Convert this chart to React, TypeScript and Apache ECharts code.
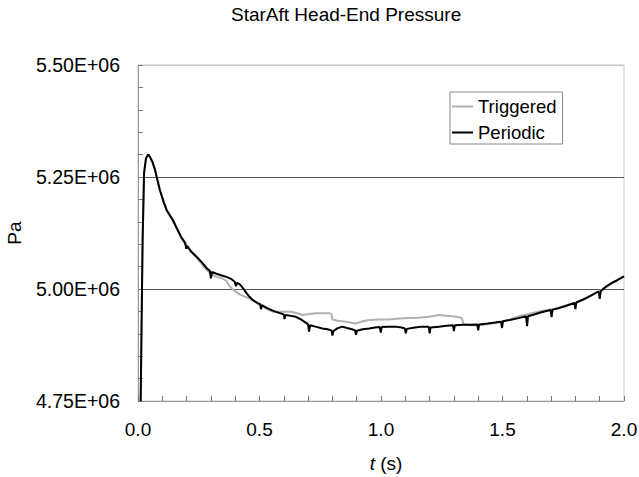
import React, { useEffect, useRef } from "react";
import * as echarts from "echarts";

const chartTitle = "StarAft Head-End Pressure";
const seriesNames = ["Triggered", "Periodic"];
const xTicks = [0, 0.5, 1.0, 1.5, 2.0];
const yTicks = [4.75e6, 5.0e6, 5.25e6, 5.5e6];

// Periodic (black): [t (s), P (Pa)]
const periodic: number[][] = [
  [0.011, 4.75e6], [0.016, 4.98e6], [0.019, 5.109e6], [0.025, 5.259e6], [0.033, 5.292e6],
  [0.042, 5.3e6], [0.049, 5.295e6], [0.06, 5.283e6], [0.07, 5.266e6], [0.08, 5.243e6],
  [0.09, 5.221e6], [0.105, 5.195e6], [0.118, 5.176e6], [0.13, 5.165e6], [0.143, 5.154e6],
  [0.16, 5.135e6], [0.179, 5.114e6], [0.192, 5.104e6], [0.196, 5.098e6], [0.199, 5.09e6],
  [0.203, 5.096e6], [0.22, 5.083e6], [0.241, 5.072e6], [0.262, 5.06e6], [0.282, 5.047e6],
  [0.296, 5.04e6], [0.3, 5.024e6], [0.304, 5.038e6], [0.323, 5.034e6], [0.345, 5.03e6],
  [0.364, 5.027e6], [0.385, 5.022e6], [0.398, 5.016e6], [0.403, 5.006e6], [0.407, 5.014e6],
  [0.42, 5.01e6], [0.432, 5.002e6], [0.445, 4.992e6], [0.46, 4.982e6], [0.473, 4.975e6],
  [0.495, 4.968e6], [0.503, 4.966e6], [0.506, 4.955e6], [0.51, 4.964e6], [0.53, 4.958e6],
  [0.55, 4.953e6], [0.568, 4.949e6], [0.59, 4.945e6], [0.6, 4.943e6], [0.603, 4.933e6],
  [0.607, 4.942e6], [0.63, 4.94e6], [0.65, 4.938e6], [0.67, 4.932e6], [0.69, 4.925e6],
  [0.7, 4.921e6], [0.704, 4.905e6], [0.708, 4.919e6], [0.73, 4.916e6], [0.759, 4.912e6],
  [0.78, 4.91e6], [0.797, 4.907e6], [0.8, 4.896e6], [0.804, 4.906e6], [0.82, 4.912e6],
  [0.841, 4.916e6], [0.86, 4.913e6], [0.88, 4.91e6], [0.893, 4.908e6], [0.897, 4.898e6],
  [0.901, 4.907e6], [0.925, 4.91e6], [0.951, 4.912e6], [0.975, 4.914e6], [0.995, 4.915e6],
  [0.999, 4.903e6], [1.003, 4.915e6], [1.03, 4.916e6], [1.06, 4.916e6], [1.085, 4.914e6],
  [1.098, 4.912e6], [1.102, 4.901e6], [1.106, 4.911e6], [1.14, 4.914e6], [1.169, 4.916e6],
  [1.19, 4.916e6], [1.197, 4.915e6], [1.2, 4.901e6], [1.204, 4.914e6], [1.238, 4.916e6],
  [1.27, 4.918e6], [1.296, 4.919e6], [1.3, 4.906e6], [1.304, 4.919e6], [1.34, 4.92e6],
  [1.37, 4.92e6], [1.396, 4.921e6], [1.4, 4.908e6], [1.404, 4.921e6], [1.44, 4.923e6],
  [1.47, 4.925e6], [1.494, 4.927e6], [1.498, 4.913e6], [1.502, 4.928e6], [1.53, 4.931e6],
  [1.566, 4.935e6], [1.597, 4.939e6], [1.601, 4.917e6], [1.605, 4.939e6], [1.63, 4.943e6],
  [1.66, 4.948e6], [1.698, 4.953e6], [1.702, 4.937e6], [1.706, 4.954e6], [1.73, 4.957e6],
  [1.76, 4.962e6], [1.796, 4.969e6], [1.8, 4.955e6], [1.804, 4.97e6], [1.83, 4.976e6],
  [1.86, 4.984e6], [1.893, 4.994e6], [1.897, 4.991e6], [1.9, 4.978e6], [1.904, 4.995e6],
  [1.925, 5.005e6], [1.948, 5.013e6], [1.97, 5.019e6], [2.0, 5.028e6],
];

// Triggered (grey): [t (s), P (Pa)]
const triggered: number[][] = [
  [0.011, 4.75e6], [0.016, 4.98e6], [0.019, 5.109e6], [0.025, 5.259e6], [0.033, 5.292e6],
  [0.042, 5.3e6], [0.049, 5.295e6], [0.06, 5.283e6], [0.07, 5.266e6], [0.08, 5.243e6],
  [0.09, 5.221e6], [0.105, 5.196e6], [0.118, 5.177e6], [0.13, 5.166e6], [0.143, 5.155e6],
  [0.16, 5.136e6], [0.179, 5.116e6], [0.195, 5.103e6], [0.205, 5.092e6], [0.22, 5.082e6],
  [0.241, 5.07e6], [0.262, 5.056e6], [0.282, 5.043e6], [0.3, 5.033e6], [0.323, 5.027e6],
  [0.345, 5.024e6], [0.364, 5.018e6], [0.377, 5.006e6], [0.395, 4.997e6], [0.418, 4.988e6],
  [0.44, 4.983e6], [0.459, 4.979e6], [0.48, 4.972e6], [0.5, 4.964e6], [0.53, 4.955e6],
  [0.555, 4.949e6], [0.59, 4.949e6], [0.63, 4.949e6], [0.655, 4.946e6], [0.677, 4.942e6],
  [0.705, 4.944e6], [0.732, 4.946e6], [0.76, 4.946e6], [0.787, 4.946e6], [0.796, 4.944e6],
  [0.8, 4.932e6], [0.82, 4.929e6], [0.855, 4.927e6], [0.896, 4.923e6], [0.925, 4.928e6],
  [0.951, 4.931e6], [0.99, 4.932e6], [1.033, 4.932e6], [1.075, 4.934e6], [1.115, 4.935e6],
  [1.155, 4.936e6], [1.197, 4.938e6], [1.238, 4.942e6], [1.279, 4.94e6], [1.31, 4.938e6],
  [1.333, 4.935e6], [1.34, 4.921e6], [1.37, 4.919e6], [1.402, 4.919e6], [1.44, 4.922e6],
  [1.484, 4.926e6], [1.53, 4.932e6], [1.57, 4.94e6], [1.607, 4.944e6], [1.66, 4.951e6],
  [1.716, 4.956e6], [1.76, 4.963e6], [1.811, 4.971e6], [1.85, 4.981e6], [1.893, 4.993e6],
  [1.95, 5.012e6], [2.0, 5.028e6],
];

const FONT = "Arial, 'Liberation Sans', sans-serif";

export default function App() {
  const ref = useRef<HTMLDivElement>(null);
  useEffect(() => {
    if (!ref.current) return;
    const chart = echarts.init(ref.current, null, { renderer: "svg" });
    const xMin = xTicks[0];
    const xMax = xTicks[xTicks.length - 1];
    const yMin = yTicks[0];
    const yMax = yTicks[yTicks.length - 1];
    chart.setOption({
      animation: false,
      backgroundColor: "#ffffff",
      title: {
        text: chartTitle,
        left: 231,
        top: 5,
        padding: 0,
        textStyle: { fontFamily: FONT, fontSize: 19, fontWeight: "normal", color: "#000" },
      },
      legend: {
        left: 450,
        top: 92,
        orient: "vertical",
        padding: [5, 6, 2, 2],
        itemGap: 7,
        itemWidth: 21,
        itemHeight: 2,
        icon: "rect",
        borderColor: "#888",
        borderWidth: 1,
        textStyle: { fontFamily: FONT, fontSize: 18.5, color: "#000" },
        data: seriesNames,
      },
      grid: {
        left: 138,
        right: 15,
        top: 65,
        bottom: 76,
        outerBoundsMode: "none",
        containLabel: false,
        show: true,
        borderColor: "#c8c8c8",
        borderWidth: 1,
        backgroundColor: "transparent",
      },
      xAxis: {
        type: "value",
        min: xMin,
        max: xMax,
        interval: 0.5,
        name: "{i|t} (s)",
        nameLocation: "middle",
        nameGap: 53,
        nameTextStyle: {
          fontFamily: FONT,
          fontSize: 19,
          color: "#000",
          padding: [0, 0, 0, 10],
          rich: { i: { fontStyle: "italic", fontFamily: FONT, fontSize: 19, color: "#000" } },
        },
        axisLine: { show: true, lineStyle: { color: "#999", width: 1 } },
        axisTick: { show: true, inside: true, length: 5, lineStyle: { color: "#777" } },
        minorTick: { show: true, splitNumber: 5, length: 5, lineStyle: { color: "#777" } },
        splitLine: { show: false },
        axisLabel: {
          margin: 19,
          fontFamily: FONT,
          fontSize: 19,
          color: "#000",
          formatter: (v: number) => v.toFixed(1),
        },
      },
      yAxis: {
        type: "value",
        min: yMin,
        max: yMax,
        interval: 250000,
        name: "Pa",
        nameLocation: "middle",
        nameGap: 114,
        nameRotate: 90,
        nameTextStyle: { fontFamily: FONT, fontSize: 19, color: "#000" },
        axisLine: { show: true, lineStyle: { color: "#999", width: 1 } },
        axisTick: { show: true, inside: true, length: 5, lineStyle: { color: "#777" } },
        minorTick: { show: true, splitNumber: 5, length: 5, lineStyle: { color: "#777" } },
        splitLine: {
          show: true,
          lineStyle: { color: ["#999", "#555", "#555", "#c8c8c8"], width: 1 },
        },
        axisLabel: {
          margin: 18,
          fontFamily: FONT,
          fontSize: 19.5,
          color: "#000",
          formatter: (v: number) => {
            const e = Math.floor(Math.log10(v));
            const m = v / Math.pow(10, e);
            return m.toFixed(2) + "E+" + String(e).padStart(2, "0");
          },
        },
      },
      series: [
        {
          name: seriesNames[0],
          type: "line",
          data: triggered,
          showSymbol: false,
          symbol: "none",
          lineStyle: { color: "#b0b0b0", width: 2 },
          itemStyle: { color: "#b0b0b0" },
          clip: true,
        },
        {
          name: seriesNames[1],
          type: "line",
          data: periodic,
          showSymbol: false,
          symbol: "none",
          lineStyle: { color: "#000", width: 2 },
          itemStyle: { color: "#000" },
          clip: true,
        },
      ],
    });
    return () => chart.dispose();
  }, []);
  return (
    <div
      ref={ref}
      style={{ position: "fixed", left: 0, top: 0, width: 639, height: 477, background: "#fff" }}
    />
  );
}
